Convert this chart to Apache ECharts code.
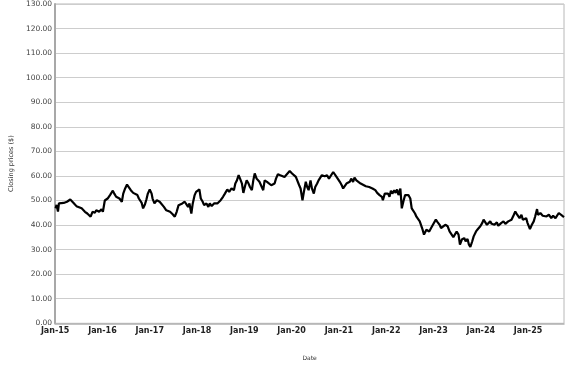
<!DOCTYPE html>
<html>
<head>
<meta charset="utf-8">
<script src="https://cdn.jsdelivr.net/npm/echarts@6/dist/echarts.min.js"></script>
<style>html,body{margin:0;padding:0;background:#fff}#c{width:577px;height:367px}</style>
</head>
<body>
<div id="c"></div>
<script>
// Dates as decimal years
const dates = [
2015.01,2015.03,2015.06,2015.08,2015.11,2015.18,2015.25,2015.32,2015.36,2015.39,2015.45,2015.49,2015.56,2015.60,2015.63,2015.68,2015.72,2015.75,2015.79,2015.84,2015.87,2015.93,2015.98,
2016.01,2016.03,2016.05,2016.11,2016.16,2016.22,2016.25,2016.29,2016.32,2016.36,2016.39,2016.41,2016.44,2016.48,2016.52,2016.56,2016.60,2016.65,2016.69,2016.74,2016.77,2016.83,2016.86,2016.90,2016.93,2016.96,
2017.00,2017.04,2017.06,2017.10,2017.15,2017.21,2017.25,2017.30,2017.35,2017.39,2017.43,2017.48,2017.53,2017.57,2017.61,2017.65,2017.69,2017.74,2017.77,2017.81,2017.84,2017.88,2017.91,2017.95,2017.98,
2018.02,2018.05,2018.08,2018.12,2018.15,2018.20,2018.24,2018.27,2018.31,2018.36,2018.39,2018.43,2018.47,2018.50,2018.55,2018.59,2018.64,2018.68,2018.73,2018.78,2018.81,2018.84,2018.88,2018.91,2018.95,2018.98,
2019.02,2019.05,2019.09,2019.12,2019.16,2019.19,2019.22,2019.26,2019.32,2019.36,2019.40,2019.43,2019.48,2019.52,2019.57,2019.61,2019.64,2019.67,2019.71,2019.76,2019.80,2019.85,2019.90,2019.94,2019.96,
2020.01,2020.05,2020.09,2020.12,2020.16,2020.19,2020.23,2020.26,2020.30,2020.33,2020.36,2020.40,2020.43,2020.47,2020.50,2020.54,2020.57,2020.61,2020.64,2020.70,2020.75,2020.79,2020.83,2020.88,2020.92,2020.95,2020.99,
2021.02,2021.06,2021.09,2021.12,2021.16,2021.19,2021.23,2021.26,2021.30,2021.33,2021.37,2021.40,2021.46,2021.50,2021.57,2021.64,2021.71,2021.77,2021.81,2021.86,2021.91,2021.93,2021.97,
2022.00,2022.04,2022.07,2022.10,2022.13,2022.17,2022.20,2022.23,2022.26,2022.30,2022.33,2022.37,2022.40,2022.44,2022.47,2022.51,2022.54,2022.58,2022.61,2022.64,2022.71,2022.77,2022.80,2022.85,2022.91,2022.95,
2023.00,2023.05,2023.09,2023.13,2023.16,2023.20,2023.25,2023.30,2023.34,2023.37,2023.42,2023.46,2023.49,2023.53,2023.56,2023.60,2023.65,2023.68,2023.72,2023.75,2023.78,2023.82,2023.85,2023.90,2023.94,2023.99,
2024.03,2024.06,2024.09,2024.13,2024.17,2024.20,2024.23,2024.29,2024.34,2024.37,2024.43,2024.48,2024.52,2024.58,2024.65,2024.70,2024.73,2024.77,2024.82,2024.86,2024.89,2024.92,2024.96,2024.99,
2025.04,2025.08,2025.12,2025.15,2025.19,2025.21,2025.26,2025.31,2025.34,2025.39,2025.44,2025.49,2025.53,2025.58,2025.62,2025.65,2025.68,2025.74,2025.76
];
const prices = [
46.8,48.2,45.5,48.8,49.5,49.0,49.5,50.4,50.1,49.0,47.7,47.4,46.8,47.2,45.4,44.7,44.0,43.4,45.4,45.0,46.0,45.4,46.4,
45.4,46.0,50.0,50.8,52.2,54.0,52.8,51.5,51.8,50.8,51.2,49.5,52.8,54.9,56.5,55.8,54.2,53.1,53.5,52.2,50.8,49.0,46.8,48.5,50.4,52.8,
54.5,52.8,50.8,48.8,50.1,49.5,48.8,47.4,46.0,46.4,45.4,44.5,43.4,45.4,48.1,47.4,48.8,49.5,48.8,47.4,48.8,44.7,48.8,52.2,53.5,
52.8,54.5,50.8,49.5,48.1,48.8,47.4,48.8,47.7,48.8,48.1,48.8,48.1,50.1,51.5,52.8,54.5,53.5,54.9,54.2,56.9,58.0,60.3,58.9,56.9,53.1,
56.2,58.2,56.9,55.5,54.2,58.2,61.0,58.9,57.6,56.9,54.2,58.2,57.6,56.9,56.2,55.5,56.9,58.9,60.7,60.3,61.0,59.6,60.7,61.2,62.0,
61.0,60.3,59.6,58.9,56.2,54.9,50.1,53.5,57.6,55.5,54.2,58.2,54.9,52.8,55.5,56.9,58.2,58.9,60.3,59.9,60.3,58.9,59.6,61.6,61.0,59.6,58.9,
57.6,56.2,54.9,55.5,56.9,56.2,57.6,58.9,57.6,59.3,58.2,57.6,56.9,56.2,55.8,55.5,54.9,54.2,53.1,52.2,51.5,50.1,52.8,
53.5,52.8,51.5,54.0,52.8,54.2,53.1,54.5,52.2,54.9,46.8,50.1,52.2,51.5,52.2,50.8,46.8,46.0,44.7,43.4,41.5,38.1,36.1,38.1,37.4,38.8,
40.5,42.2,41.1,40.1,38.8,38.1,40.1,39.5,37.4,36.8,35.1,35.7,37.4,36.1,32.0,34.1,34.7,33.4,34.3,32.0,31.1,33.4,35.4,37.4,38.4,39.5,
40.8,42.2,41.5,40.1,40.8,41.5,40.5,40.1,41.1,39.7,40.8,41.5,40.5,41.5,42.2,44.2,45.5,44.2,42.8,44.2,42.2,41.5,42.8,40.8,
38.4,40.1,41.5,43.5,46.5,44.2,44.9,43.8,44.6,43.5,44.2,42.8,43.8,42.8,43.5,44.9,44.2,43.5,43.2
];
const yearTicks = [2015,2016,2017,2018,2019,2020,2021,2022,2023,2024,2025];
const yearLabels = ['Jan-15','Jan-16','Jan-17','Jan-18','Jan-19','Jan-20','Jan-21','Jan-22','Jan-23','Jan-24','Jan-25'];
const xTitle = 'Date';
const yTitle = 'Closing prices ($)';

const chart = echarts.init(document.getElementById('c'), null, {renderer: 'canvas'});
const font = 'DejaVu Sans';
chart.setOption({
  animation: false,
  backgroundColor: '#fff',
  grid: {left: 44.5, right: 13, top: 3.3, bottom: 43.7, containLabel: false,
         show: true, borderColor: '#b8b8b8', borderWidth: 1},
  xAxis: {
    type: 'value', min: 2015, max: dates[dates.length - 1], interval: 1,
    name: xTitle, nameLocation: 'middle', nameGap: 32,
    nameTextStyle: {fontFamily: font, fontSize: 6, color: '#333'},
    axisLine: {show: true, lineStyle: {color: '#b0b0b0', width: 1.5}},
    axisTick: {show: false},
    splitLine: {show: false},
    axisLabel: {
      fontFamily: font, fontSize: 8, fontWeight: 'bold', color: '#222', margin: 4,
      showMaxLabel: false,
      formatter: function (v) {
        const i = yearTicks.indexOf(Math.round(v * 1000) / 1000);
        return i >= 0 ? yearLabels[i] : '';
      }
    }
  },
  yAxis: {
    type: 'value', min: 0, max: 130, interval: 10,
    name: yTitle, nameLocation: 'middle', nameGap: 32, nameRotate: 90,
    nameTextStyle: {fontFamily: font, fontSize: 6.5, color: '#333'},
    axisLine: {show: true, lineStyle: {color: '#a8a8a8', width: 2}},
    axisTick: {show: false},
    splitLine: {show: true, lineStyle: {color: '#cdcdcd', width: 1}},
    axisLabel: {
      fontFamily: font, fontSize: 7.5, color: '#444', margin: 3,
      formatter: function (v) { return v.toFixed(2); }
    }
  },
  series: [{
    type: 'line',
    data: dates.map((d, i) => [d, prices[i]]),
    showSymbol: false,
    lineStyle: {color: '#000', width: 2.2},
    silent: true
  }]
});
</script>
</body>
</html>
